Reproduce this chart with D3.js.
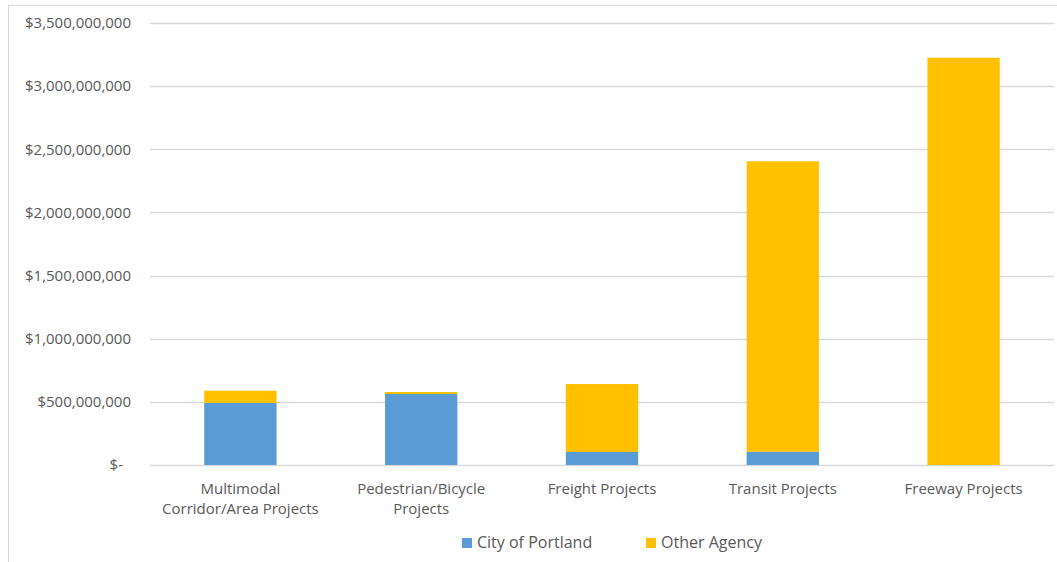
<!DOCTYPE html>
<html>
<head>
<meta charset="utf-8">
<script src="https://cdn.jsdelivr.net/npm/d3@7"></script>
<style>
  body { margin: 0; background: #fff; }
  text { font-family: "Open Sans", sans-serif; fill: #595959; }
</style>
</head>
<body>
<script>
// values (dollars)
var categories = ["Multimodal\nCorridor/Area Projects", "Pedestrian/Bicycle\nProjects", "Freight Projects", "Transit Projects", "Freeway Projects"];
var cityOfPortland = [491000000, 562000000, 103000000, 105000000, 0];
var otherAgency = [97000000, 16000000, 538000000, 2300000000, 3225000000];
var seriesNames = ["City of Portland", "Other Agency"];
var seriesColors = ["#5B9BD5", "#FFC000"];
var yTicks = [0, 500000000, 1000000000, 1500000000, 2000000000, 2500000000, 3000000000, 3500000000];

var width = 1057, height = 562;

var svg = d3.select("body").append("svg")
    .attr("width", width)
    .attr("height", height);

// chart border
svg.append("rect")
    .attr("x", 8.5).attr("y", 5.5)
    .attr("width", 1100).attr("height", 700)
    .attr("fill", "none")
    .attr("stroke", "#D9D9D9");

var plotLeft = 150, plotRight = 1054, plotTop = 23, plotBottom = 465;

var x = d3.scaleBand().domain(categories).range([plotLeft, plotRight]).paddingInner(0.6).paddingOuter(0.3);
var y = d3.scaleLinear().domain([0, 3500000000]).range([plotBottom, plotTop]);

// gridlines
svg.append("g").selectAll("line").data(yTicks).enter().append("line")
    .attr("x1", plotLeft).attr("x2", plotRight)
    .attr("y1", function(d){ return Math.round(y(d)) + 0.5; })
    .attr("y2", function(d){ return Math.round(y(d)) + 0.5; })
    .attr("stroke", "#D9D9D9")
    .attr("stroke-width", 1.3);

var yAxis = d3.axisLeft(y).tickValues(yTicks).tickSize(0).tickPadding(0)
    .tickFormat(function(d){ return d === 0 ? "$-" : "$" + d3.format(",")(d); });

var gy = svg.append("g").attr("transform", "translate(131,0)").call(yAxis);
gy.select(".domain").remove();
gy.selectAll("text")
    .style("font-size", "15px").style("font-family", null).style("fill", "#595959")
    .attr("dx", function(d){ return d === 0 ? -8 : 0; });

// stacked bars
var stackData = categories.map(function(c, i){ return {cat: c, city: cityOfPortland[i], other: otherAgency[i]}; });
var stack = d3.stack().keys(["city", "other"])(stackData);

svg.append("g").selectAll("g").data(stack).enter().append("g")
    .attr("fill", function(d, i){ return seriesColors[i]; })
  .selectAll("rect").data(function(d){ return d; }).enter().append("rect")
    .attr("x", function(d){ return x(d.data.cat); })
    .attr("width", x.bandwidth())
    .attr("y", function(d){ return y(d[1]); })
    .attr("height", function(d){ return y(d[0]) - y(d[1]); });

// category labels
var xl = svg.append("g").selectAll("text").data(categories).enter().append("text")
    .attr("text-anchor", "middle")
    .style("font-size", "15px")
    .attr("transform", function(d){ return "translate(" + (x(d) + x.bandwidth()/2) + ",494)"; });
xl.selectAll("tspan").data(function(d){ return d.split("\n"); }).enter().append("tspan")
    .attr("x", 0)
    .attr("y", function(d, i){ return i * 20; })
    .text(function(d){ return d; });

// legend
var legendX = [462, 646];
var lg = svg.append("g").selectAll("g").data(seriesNames).enter().append("g")
    .attr("transform", function(d, i){ return "translate(" + legendX[i] + ",538)"; });
lg.append("rect").attr("width", 10).attr("height", 10)
    .attr("fill", function(d, i){ return seriesColors[i]; });
lg.append("text").attr("x", 15).attr("y", 10)
    .style("font-size", "16px")
    .text(function(d){ return d; });
</script>
</body>
</html>
